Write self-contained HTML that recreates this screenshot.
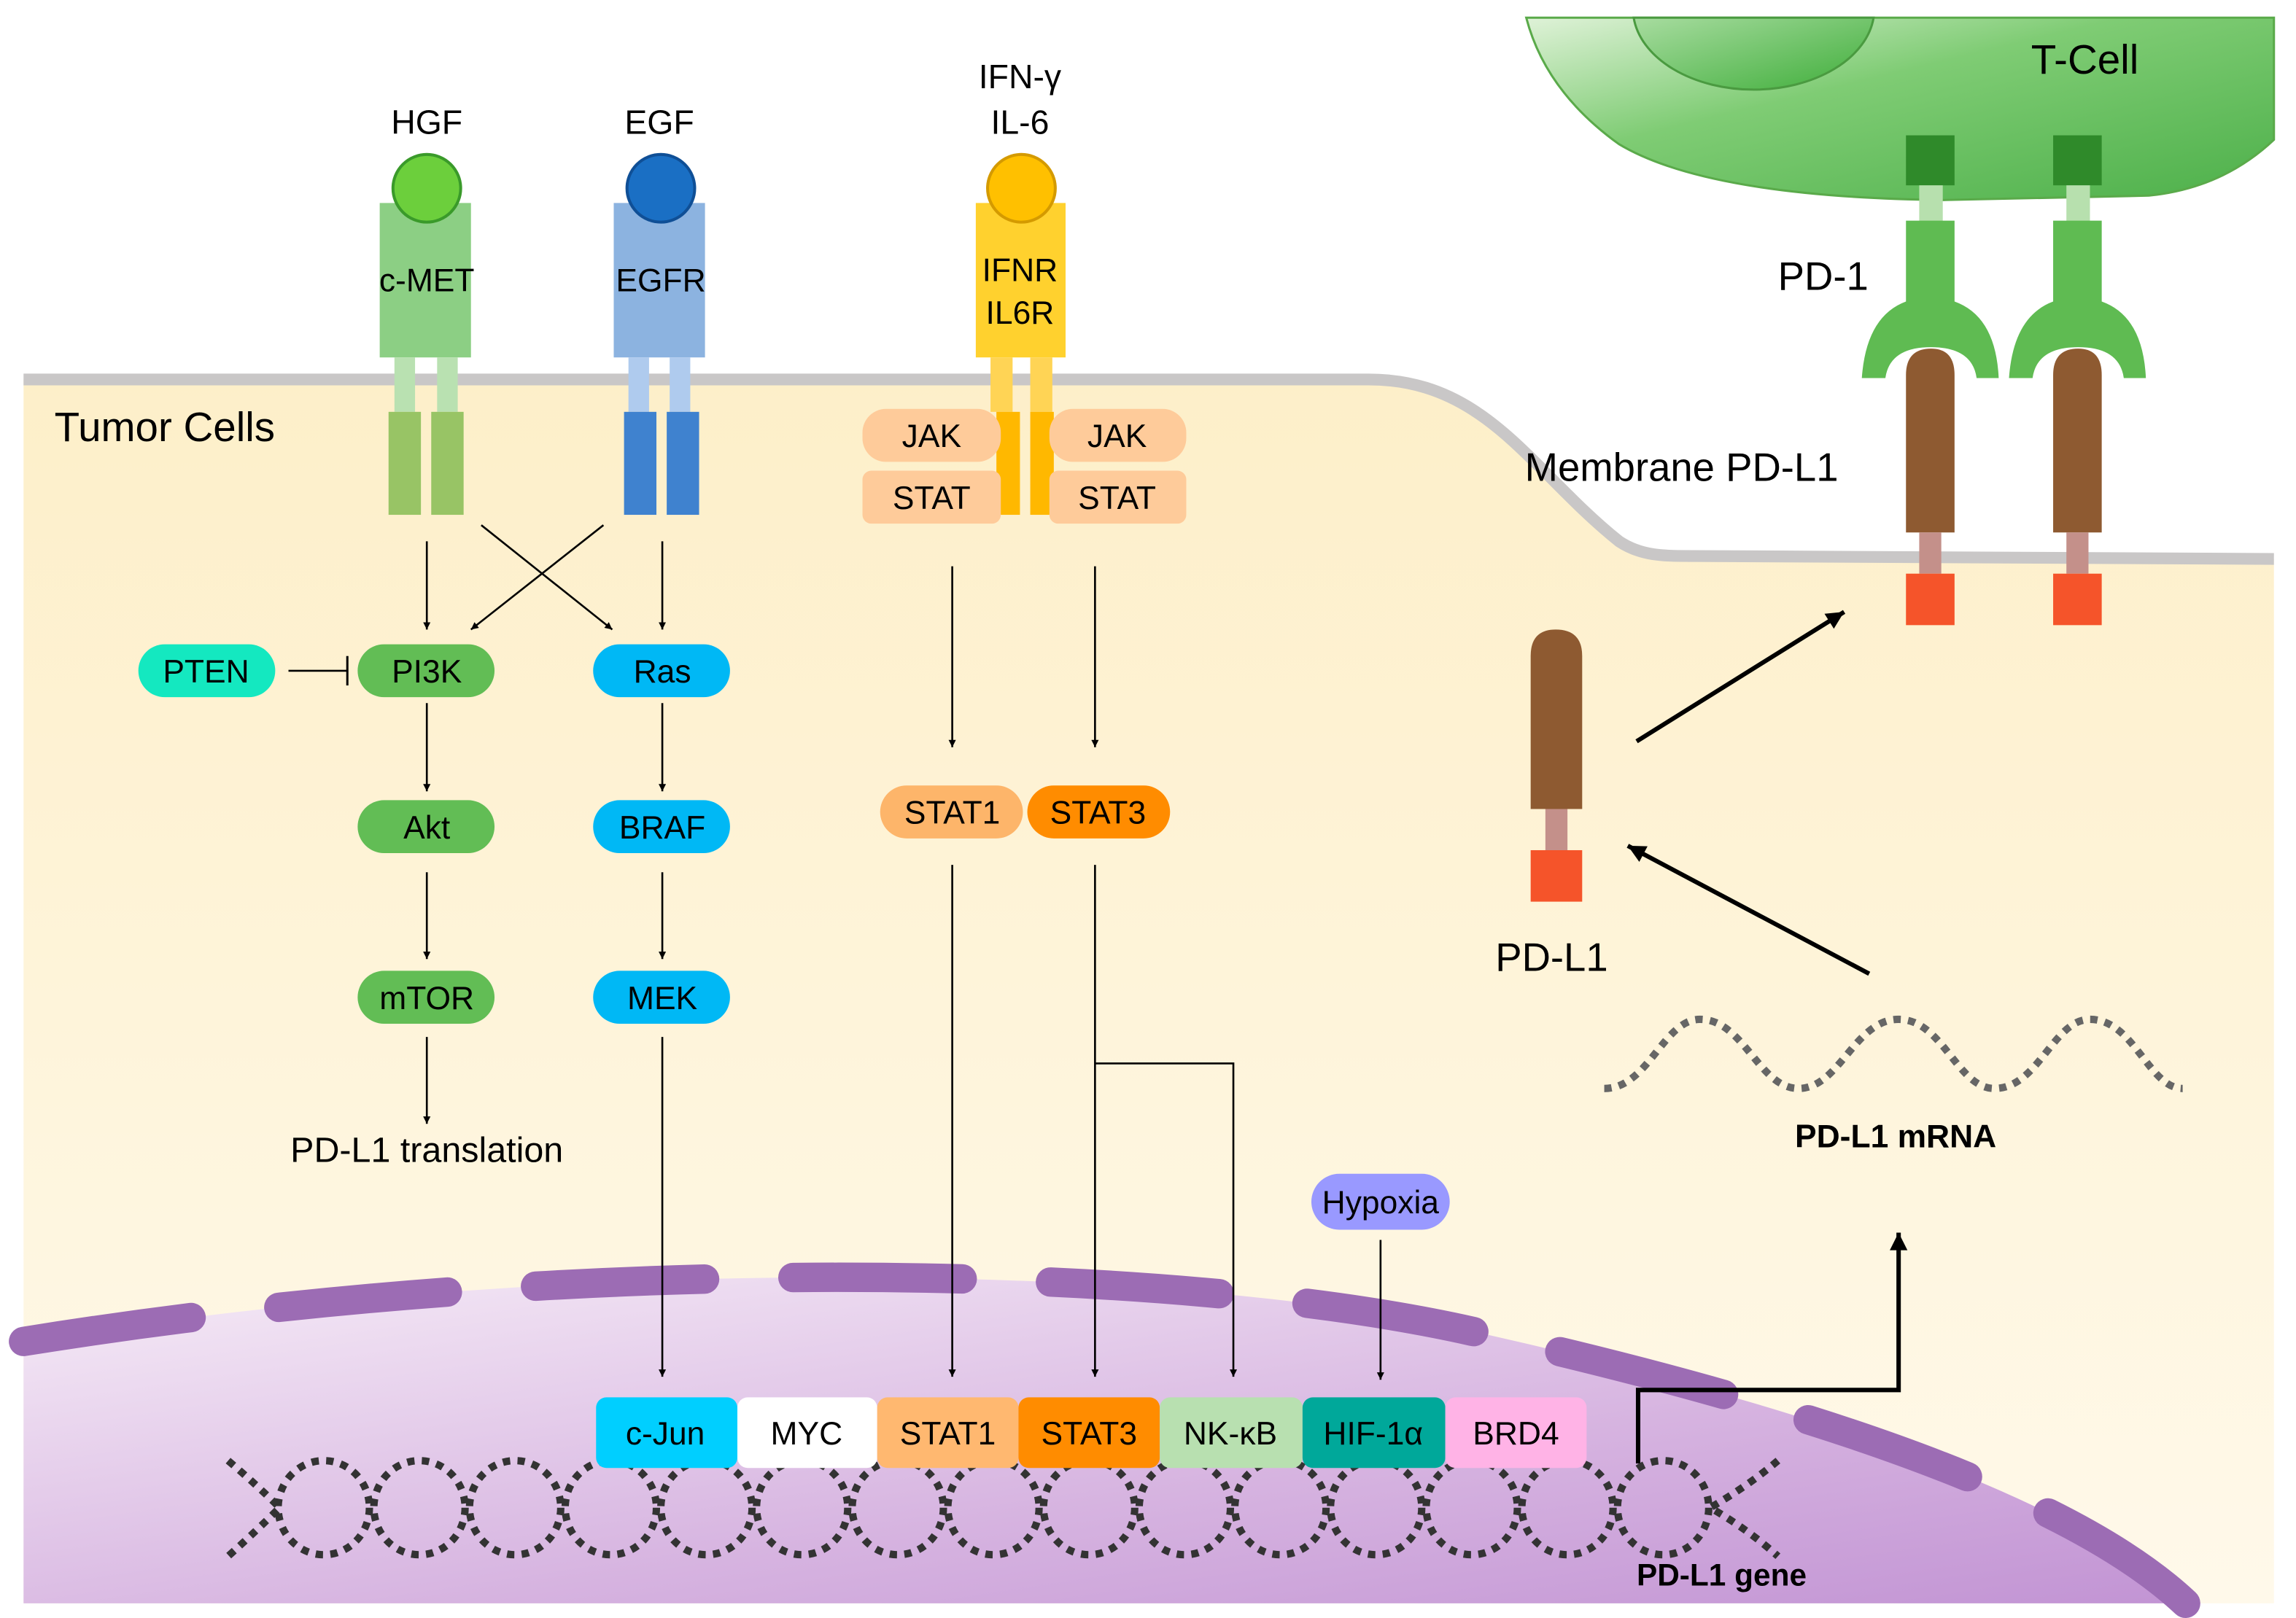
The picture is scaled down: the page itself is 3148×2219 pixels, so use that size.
<!DOCTYPE html>
<html><head><meta charset="utf-8"><style>html,body{margin:0;padding:0;background:#fff}svg{display:block}text{font-family:"Liberation Sans",sans-serif}</style></head><body>
<svg width="3148" height="2219" viewBox="0 0 1560 1100" preserveAspectRatio="none" xmlns="http://www.w3.org/2000/svg">
<defs>
<linearGradient id="cream" x1="0" y1="0" x2="0" y2="1"><stop offset="0" stop-color="#fdefc9"/><stop offset="1" stop-color="#fff9ea"/></linearGradient>
<linearGradient id="nuc" x1="0" y1="0" x2="1" y2="1"><stop offset="0" stop-color="#f6ecf7"/><stop offset="0.6" stop-color="#d6b3e0"/><stop offset="1" stop-color="#c294d4"/></linearGradient>
<linearGradient id="tc" x1="0" y1="0" x2="1" y2="1"><stop offset="0" stop-color="#dff2d8"/><stop offset="0.4" stop-color="#7fcc74"/><stop offset="1" stop-color="#4db04a"/></linearGradient>
<linearGradient id="tn" x1="0" y1="0" x2="1" y2="1"><stop offset="0" stop-color="#a8dca0"/><stop offset="1" stop-color="#3fae3a"/></linearGradient>
<marker id="a" viewBox="0 0 10 10" refX="10" refY="5" markerWidth="5" markerHeight="5" orient="auto-start-reverse" markerUnits="userSpaceOnUse"><path d="M0,0 L10,5 L0,10z" fill="#000"/></marker>
<marker id="b" viewBox="0 0 10 10" refX="10" refY="5" markerWidth="14" markerHeight="12" orient="auto" markerUnits="userSpaceOnUse"><path d="M0,0 L10,5 L0,10z" fill="#000"/></marker>
</defs>
<path d="M16,258 L930,258 C1010,258 1040,320 1100,368 C1115,378 1130,378 1150,378 L1545,380 L1545,1090 L16,1090 Z" fill="url(#cream)"/>
<path d="M16,258 L930,258 C1010,258 1040,320 1100,368 C1115,378 1130,378 1150,378 L1545,380" fill="none" stroke="#c9c7c7" stroke-width="8"/>
<path d="M16,912 C400,850 800,860 1000,905 C1200,950 1400,1010 1485,1090 L16,1090 Z" fill="url(#nuc)"/>
<path d="M16,912 C400,850 800,860 1000,905 C1200,950 1400,1010 1485,1090" fill="none" stroke="#9c6cb4" stroke-width="20" stroke-linecap="round" stroke-dasharray="115,60"/>
<path d="M1037,12 L1545,12 L1545,95 Q1510,128 1460,133 L1320,136 Q1160,134 1100,98 Q1050,62 1037,12 Z" fill="url(#tc)" stroke="#5aaa4a" stroke-width="1.5"/>
<path d="M1110,12 A82,55 0 0 0 1273,12 Z" fill="url(#tn)" stroke="#4a9a40" stroke-width="1.5"/>
<text x="1380" y="50" font-size="28">T-Cell</text>
<g id="pd">
<rect x="1295" y="92" width="33" height="34" fill="#2f8a2a"/>
<rect x="1304" y="126" width="16" height="25" fill="#b7e0ae"/>
<path d="M1295,150 L1328,150 L1328,205 Q1356,215 1358,257 L1343,257 Q1340,236 1312,236 Q1284,236 1281,257 L1265,257 Q1268,215 1295,205 Z" fill="#5fbb52"/>
<path d="M1295,255 Q1295,237 1312,237 Q1328,237 1328,255 L1328,362 L1295,362 Z" fill="#8e5a31"/>
<rect x="1304" y="362" width="15" height="28" fill="#c4908a"/>
<rect x="1295" y="390" width="33" height="35" fill="#f5542a"/>
</g>
<use href="#pd" x="100"/>
<text x="1208" y="197" font-size="27">PD-1</text>
<text x="1036" y="327" font-size="27">Membrane PD-L1</text>
<path d="M1040,446 Q1040,428 1057,428 Q1075,428 1075,446 L1075,550 L1040,550 Z" fill="#8e5a31"/>
<rect x="1050" y="550" width="15" height="28" fill="#c4908a"/>
<rect x="1040" y="578" width="35" height="35" fill="#f5542a"/>
<text x="1016" y="660" font-size="27">PD-L1</text>
<line x1="1112" y1="504" x2="1253" y2="416" stroke="#000" stroke-width="3" marker-end="url(#b)"/>
<line x1="1270" y1="662" x2="1106" y2="575" stroke="#000" stroke-width="3" marker-end="url(#b)"/>
<path d="M1090,740 C1120,740 1130,693 1155,693 C1185,693 1195,740 1222,740 C1250,740 1260,693 1290,693 C1320,693 1330,740 1355,740 C1385,740 1395,693 1420,693 C1450,693 1460,740 1483,740" fill="none" stroke="#666" stroke-width="5" stroke-dasharray="5,5"/>
<text x="1288" y="780" font-size="22" font-weight="bold" text-anchor="middle">PD-L1 mRNA</text>
<path d="M1113,995 L1113,945 L1290,945 L1290,838" fill="none" stroke="#000" stroke-width="3" marker-end="url(#b)"/>
<text x="290" y="91" font-size="23" text-anchor="middle">HGF</text>
<text x="448" y="91" font-size="23" text-anchor="middle">EGF</text>
<text x="693" y="60" font-size="23" text-anchor="middle">IFN-γ</text>
<text x="693" y="91" font-size="23" text-anchor="middle">IL-6</text>
<rect x="258" y="138" width="62" height="105" fill="#8ccf84"/>
<rect x="268" y="243" width="14" height="37" fill="#b9e1b1"/><rect x="297" y="243" width="14" height="37" fill="#b9e1b1"/>
<rect x="264" y="280" width="22" height="70" fill="#98c465"/><rect x="293" y="280" width="22" height="70" fill="#98c465"/>
<circle cx="290" cy="128" r="23" fill="#6ccf3c" stroke="#3a9a2a" stroke-width="2"/>
<text x="290" y="198" font-size="22" text-anchor="middle">c-MET</text>
<rect x="417" y="138" width="62" height="105" fill="#8cb3e0"/>
<rect x="427" y="243" width="14" height="37" fill="#afcbee"/><rect x="455" y="243" width="14" height="37" fill="#afcbee"/>
<rect x="424" y="280" width="22" height="70" fill="#3f82cf"/><rect x="453" y="280" width="22" height="70" fill="#3f82cf"/>
<circle cx="449" cy="128" r="23" fill="#1a6fc4" stroke="#0f4f96" stroke-width="2"/>
<text x="449" y="198" font-size="22" text-anchor="middle">EGFR</text>
<rect x="663" y="138" width="61" height="105" fill="#ffd12e"/>
<rect x="673" y="243" width="15" height="37" fill="#ffd455"/><rect x="700" y="243" width="15" height="37" fill="#ffd455"/>
<rect x="677" y="280" width="16" height="70" fill="#ffb800"/><rect x="700" y="280" width="16" height="70" fill="#ffb800"/>
<circle cx="694" cy="128" r="23" fill="#ffc000" stroke="#d49a00" stroke-width="2"/>
<text x="693" y="191" font-size="22" text-anchor="middle">IFNR</text>
<text x="693" y="220" font-size="22" text-anchor="middle">IL6R</text>
<g fill="#fecb9a">
<rect x="586" y="278" width="94" height="36" rx="16"/><rect x="586" y="320" width="94" height="36" rx="6"/>
<rect x="713" y="278" width="93" height="36" rx="16"/><rect x="713" y="320" width="93" height="36" rx="6"/>
</g>
<g font-size="22" text-anchor="middle">
<text x="633" y="304">JAK</text><text x="633" y="346">STAT</text>
<text x="759" y="304">JAK</text><text x="759" y="346">STAT</text>
</g>
<text x="37" y="300" font-size="28">Tumor Cells</text>
<g>
<rect x="94" y="438" width="93" height="36" rx="18" fill="#14e8c0"/>
<rect x="243" y="438" width="93" height="36" rx="18" fill="#62bd55"/>
<rect x="403" y="438" width="93" height="36" rx="18" fill="#00b8f5"/>
<rect x="243" y="544" width="93" height="36" rx="18" fill="#62bd55"/>
<rect x="403" y="544" width="93" height="36" rx="18" fill="#00b8f5"/>
<rect x="243" y="660" width="93" height="36" rx="18" fill="#62bd55"/>
<rect x="403" y="660" width="93" height="36" rx="18" fill="#00b8f5"/>
<rect x="598" y="534" width="97" height="36" rx="18" fill="#fdb56a"/>
<rect x="698" y="534" width="97" height="36" rx="18" fill="#ff8c00"/>
<rect x="891" y="798" width="94" height="38" rx="19" fill="#9999ff"/>
</g>
<g font-size="22" text-anchor="middle">
<text x="140" y="464">PTEN</text><text x="290" y="464">PI3K</text><text x="450" y="464">Ras</text>
<text x="290" y="570">Akt</text><text x="450" y="570">BRAF</text>
<text x="290" y="686">mTOR</text><text x="450" y="686">MEK</text>
<text x="647" y="560">STAT1</text><text x="746" y="560">STAT3</text>
<text x="938" y="825">Hypoxia</text>
<text x="290" y="790" font-size="24">PD-L1 translation</text>
</g>
<g stroke="#000" stroke-width="1.3" fill="none" marker-end="url(#a)">
<line x1="290" y1="368" x2="290" y2="428"/><line x1="450" y1="368" x2="450" y2="428"/>
<line x1="327" y1="357" x2="416" y2="428"/><line x1="410" y1="357" x2="320" y2="428"/>
<line x1="290" y1="478" x2="290" y2="538"/><line x1="450" y1="478" x2="450" y2="538"/>
<line x1="290" y1="593" x2="290" y2="652"/><line x1="450" y1="593" x2="450" y2="652"/>
<line x1="290" y1="705" x2="290" y2="764"/>
<line x1="450" y1="705" x2="450" y2="936"/>
<line x1="647" y1="385" x2="647" y2="508"/><line x1="744" y1="385" x2="744" y2="508"/>
<line x1="647" y1="588" x2="647" y2="936"/><line x1="744" y1="588" x2="744" y2="936"/>
<path d="M744,723 L838,723 L838,936"/>
<line x1="938" y1="843" x2="938" y2="938"/>
</g>
<line x1="196" y1="456" x2="236" y2="456" stroke="#000" stroke-width="1.3"/>
<line x1="236" y1="446" x2="236" y2="466" stroke="#000" stroke-width="1.5"/>
<g fill="none" stroke="#333" stroke-width="5" stroke-dasharray="5,5">
<ellipse cx="220" cy="1025" rx="31" ry="32"/><ellipse cx="285" cy="1025" rx="31" ry="32"/><ellipse cx="350" cy="1025" rx="31" ry="32"/>
<ellipse cx="415" cy="1025" rx="31" ry="32"/><ellipse cx="480" cy="1025" rx="31" ry="32"/><ellipse cx="545" cy="1025" rx="31" ry="32"/>
<ellipse cx="610" cy="1025" rx="31" ry="32"/><ellipse cx="675" cy="1025" rx="31" ry="32"/><ellipse cx="740" cy="1025" rx="31" ry="32"/>
<ellipse cx="805" cy="1025" rx="31" ry="32"/><ellipse cx="870" cy="1025" rx="31" ry="32"/><ellipse cx="935" cy="1025" rx="31" ry="32"/>
<ellipse cx="1000" cy="1025" rx="31" ry="32"/><ellipse cx="1065" cy="1025" rx="31" ry="32"/><ellipse cx="1130" cy="1025" rx="31" ry="32"/>
<path d="M155,993 Q175,1010 190,1025 Q175,1040 155,1058"/>
<path d="M1208,993 Q1188,1010 1162,1025 Q1188,1040 1208,1058"/>
</g>
<g>
<rect x="405" y="950" width="96" height="48" rx="7" fill="#00cfff"/>
<rect x="501" y="950" width="95" height="48" rx="7" fill="#ffffff"/>
<rect x="596" y="950" width="96" height="48" rx="7" fill="#ffb870"/>
<rect x="692" y="950" width="96" height="48" rx="7" fill="#ff8c00"/>
<rect x="788" y="950" width="97" height="48" rx="7" fill="#b8e0b0"/>
<rect x="885" y="950" width="97" height="48" rx="7" fill="#00a89a"/>
<rect x="982" y="950" width="96" height="48" rx="7" fill="#ffb3e6"/>
</g>
<g font-size="22" text-anchor="middle">
<text x="452" y="982">c-Jun</text><text x="548" y="982">MYC</text><text x="644" y="982">STAT1</text>
<text x="740" y="982">STAT3</text><text x="836" y="982">NK-κB</text><text x="933" y="982">HIF-1α</text><text x="1030" y="982">BRD4</text>
</g>
<text x="1112" y="1078" font-size="21" font-weight="bold">PD-L1 gene</text>
</svg>
</body></html>
